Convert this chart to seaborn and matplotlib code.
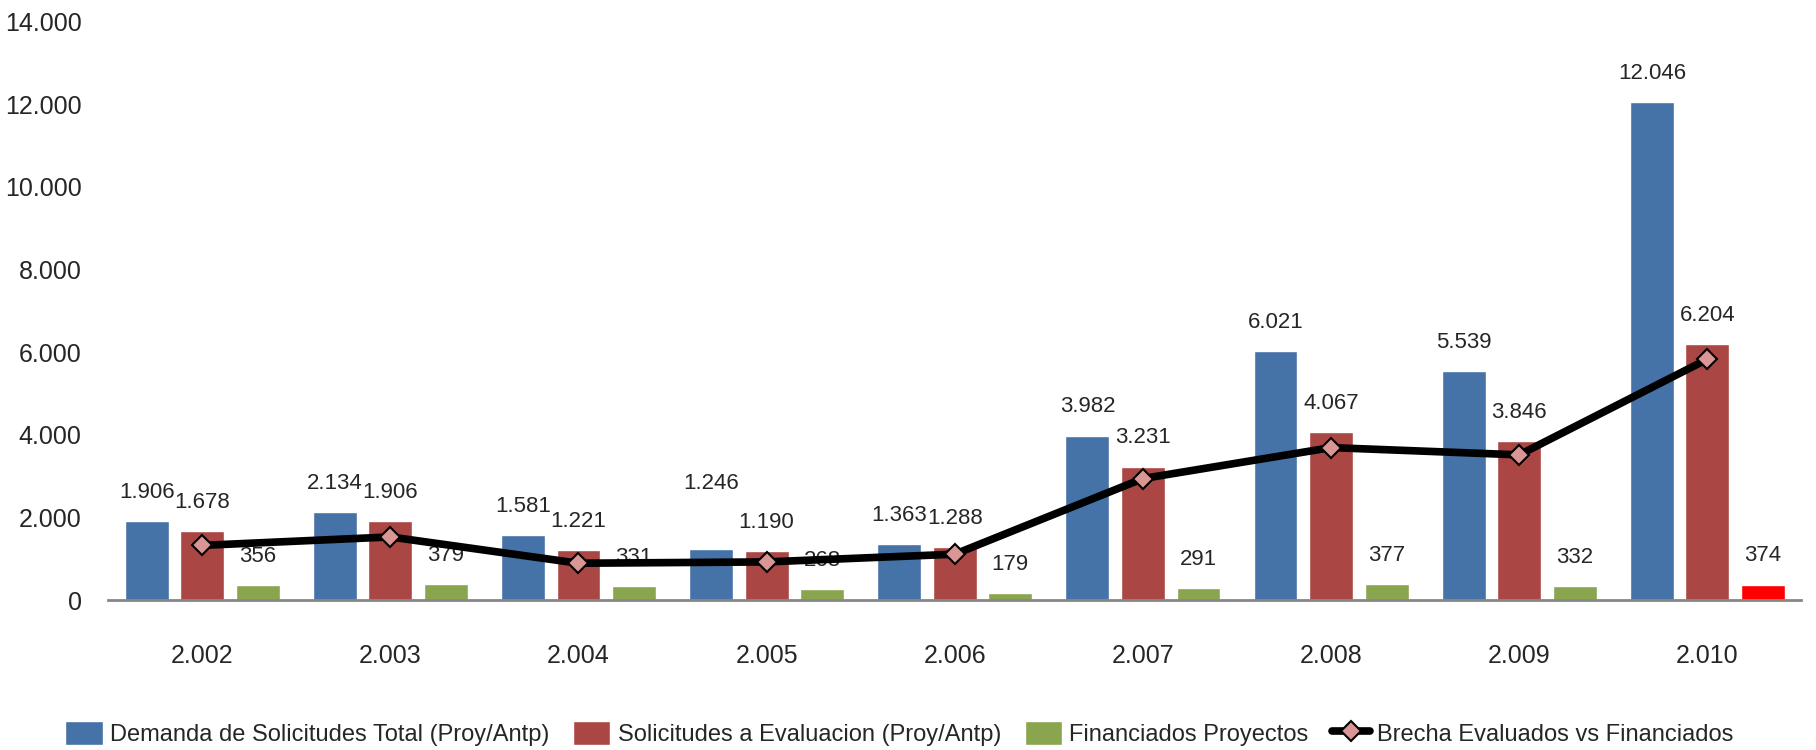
import matplotlib
matplotlib.use("Agg")
import matplotlib.pyplot as plt
import seaborn as sns
import pandas as pd
import numpy as np
from matplotlib.ticker import FuncFormatter, MultipleLocator

years = ["2.002", "2.003", "2.004", "2.005", "2.006", "2.007", "2.008", "2.009", "2.010"]
demanda = [1906, 2134, 1581, 1246, 1363, 3982, 6021, 5539, 12046]
evaluacion = [1678, 1906, 1221, 1190, 1288, 3231, 4067, 3846, 6204]
financiados = [356, 379, 331, 268, 179, 291, 377, 332, 374]
brecha = [1322, 1527, 890, 922, 1109, 2940, 3690, 3514, 5830]

series_names = [
    "Demanda de Solicitudes Total (Proy/Antp)",
    "Solicitudes a Evaluacion (Proy/Antp)",
    "Financiados Proyectos",
]
line_name = "Brecha Evaluados vs Financiados"
colors = ["#4572A7", "#AA4643", "#89A54E"]

df = pd.DataFrame({
    "year": years * 3,
    "value": demanda + evaluacion + financiados,
    "serie": [series_names[0]] * 9 + [series_names[1]] * 9 + [series_names[2]] * 9,
})

sns.set_style("white")
plt.rcParams["font.family"] = ["Liberation Sans Narrow", "Liberation Sans", "DejaVu Sans"]

fig = plt.figure(figsize=(18.16, 7.5), dpi=100)
ax = fig.add_axes([0.0595, 0.2, 0.9325, 0.771])

sns.barplot(data=df, x="year", y="value", hue="serie", palette=colors,
            width=0.885, gap=0.21, saturation=1, ax=ax, legend=False)

# last financed bar is highlighted in red
ax.containers[2].patches[-1].set_facecolor("#FF0000")

# data labels
for cont in ax.containers:
    for i, p in enumerate(cont.patches):
        h = p.get_height()
        extra = 26 if (cont is ax.containers[0] and i == 3) else 0
        ax.annotate(f"{int(h):,}".replace(",", "."),
                    (p.get_x() + p.get_width() / 2, h),
                    xytext=(0, 13 + extra), textcoords="offset points",
                    ha="center", va="bottom", fontsize=16)

ax.plot(np.arange(len(years)), brecha, color="black", lw=5.5, marker="D",
        ms=10, mfc="#D99694", mec="black", mew=1.5, zorder=5, label=line_name)

ax.set_xlim(-0.5, 8.5)
ax.set_ylim(0, 14000)
ax.yaxis.set_major_locator(MultipleLocator(2000))
ax.yaxis.set_major_formatter(FuncFormatter(lambda v, p: f"{int(v):,}".replace(",", ".")))
ax.set_xlabel("")
ax.set_ylabel("")
ax.tick_params(axis="y", length=0, pad=19, labelsize=18)
ax.tick_params(axis="x", length=0, pad=32, labelsize=18)
for s in ["left", "right", "top"]:
    ax.spines[s].set_visible(False)
ax.spines["bottom"].set_color("#868686")
ax.spines["bottom"].set_linewidth(2)

handles = list(ax.containers[:3]) + [ax.lines[-1]]
labels = series_names + [line_name]
fig.legend(handles, labels, loc="center left", bbox_to_anchor=(0.024, 0.022),
           ncol=4, frameon=False, fontsize=17, handlelength=1.6, handleheight=1.2,
           handletextpad=0.3, columnspacing=1.0)

fig.savefig("out.png", dpi=100)
